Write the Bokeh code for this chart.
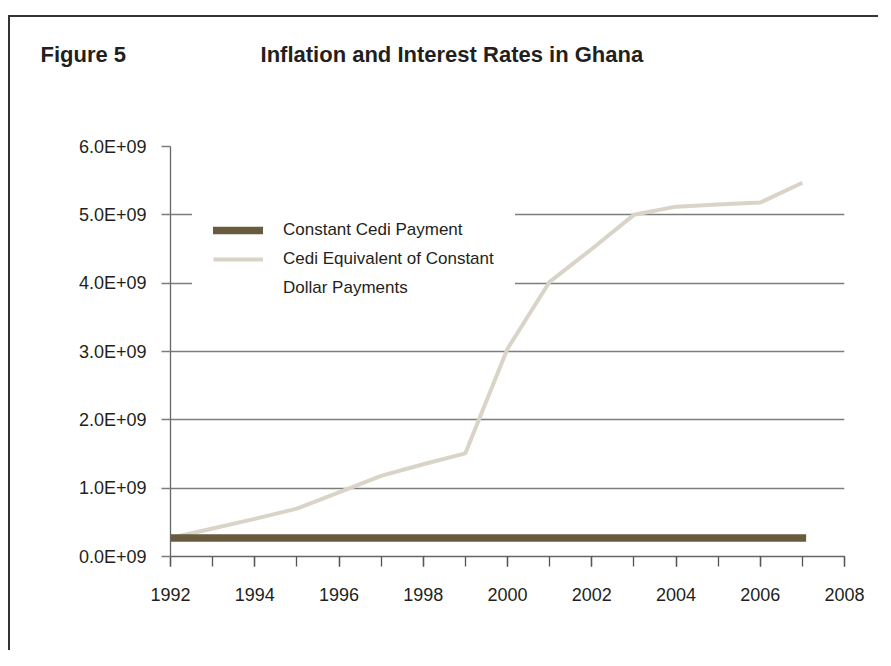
from bokeh.plotting import figure
from bokeh.models import (Legend, LegendItem, SingleIntervalTicker, FixedTicker,
                          CustomJSTickFormatter, Range1d, Title)
from bokeh.embed import file_html
from bokeh.resources import INLINE

# ---- data ----
years = [1992, 1993, 1994, 1995, 1996, 1997, 1998, 1999,
         2000, 2001, 2002, 2003, 2004, 2005, 2006, 2007]
constant_cedi = [0.27e9, 0.27e9, 0.27e9, 0.27e9, 0.27e9, 0.27e9, 0.27e9, 0.27e9,
                 0.27e9, 0.27e9, 0.27e9, 0.27e9, 0.27e9, 0.27e9, 0.27e9, 0.27e9]
cedi_equiv_dollar = [0.27e9, 0.41e9, 0.55e9, 0.70e9, 0.94e9, 1.18e9, 1.35e9, 1.51e9,
                     3.04e9, 4.02e9, 4.50e9, 5.00e9, 5.12e9, 5.15e9, 5.18e9, 5.47e9]
y_ticks = [0, 1e9, 2e9, 3e9, 4e9, 5e9, 6e9]
series_labels = ["Constant Cedi Payment", "Cedi Equivalent of Constant", "Dollar Payments"]
fig_label = "Figure 5"
title_text = "Inflation and Interest Rates in Ghana"

DARK = "#695b3d"
LIGHT = "#dad4c8"
GRID = "#7d7d7d"
TEXT = "#231f20"
FONT = "Liberation Sans"

p = figure(width=870, height=635, x_range=Range1d(1992, 2008), y_range=Range1d(0, 6e9),
           output_backend="svg", toolbar_location=None,
           min_border_left=160, min_border_right=36, min_border_top=129, min_border_bottom=96)
p.styles = {"border-top": "2px solid #333333", "border-left": "2px solid #333333",
            "margin-top": "15px", "margin-left": "8px"}
p.outline_line_color = None
p.background_fill_color = "white"

# title line: figure number and title on one line (gap kept with no-break spaces)
p.title.text = fig_label + "\u00a0" * 22 + title_text
p.title.align = "left"
p.title.offset = -130
p.title.standoff = 10
p.title.vertical_align = "bottom"
p.title.text_font = FONT
p.title.text_font_style = "bold"
p.title.text_font_size = "22px"
p.title.text_color = TEXT
# blank spacer row between the title and the plot area
p.add_layout(Title(text=" ", standoff=72, text_font_size="1px"), "above")

r_light = p.line(years, cedi_equiv_dollar, line_width=4, line_color=LIGHT)
r_dark = p.line(years, constant_cedi, line_width=7.5, line_color=DARK, line_cap="square")
r_blank = p.line(years, cedi_equiv_dollar, line_width=4, line_color=LIGHT, line_alpha=0)

# axes
p.xgrid.visible = False
p.ygrid.ticker = FixedTicker(ticks=y_ticks)
p.ygrid.grid_line_color = GRID
p.ygrid.grid_line_width = 1.3

p.yaxis.ticker = FixedTicker(ticks=y_ticks)
p.yaxis.formatter = CustomJSTickFormatter(code="return (tick/1e9).toFixed(1) + 'E+09';")
p.yaxis.minor_tick_line_color = None
p.yaxis.major_tick_out = 9
p.yaxis.major_tick_in = 0
p.yaxis.major_tick_line_color = GRID
p.yaxis.major_tick_line_width = 1.3
p.yaxis.major_label_standoff = 15

p.xaxis.ticker = SingleIntervalTicker(interval=2, num_minor_ticks=2)
p.xaxis.major_tick_out = 10
p.xaxis.major_tick_in = 0
p.xaxis.minor_tick_out = 10
p.xaxis.minor_tick_in = 0
p.xaxis.major_tick_line_color = "#555555"
p.xaxis.minor_tick_line_color = "#555555"
p.xaxis.major_tick_line_width = 1.3
p.xaxis.minor_tick_line_width = 1.3
p.xaxis.major_label_standoff = 21

for ax in (p.xaxis, p.yaxis):
    ax.axis_line_color = "#666666"
    ax.axis_line_width = 1.3
    ax.major_label_text_font = FONT
    ax.major_label_text_font_size = "18px"
    ax.major_label_text_color = TEXT

# legend
legend = Legend(items=[
    LegendItem(label=series_labels[0], renderers=[r_dark]),
    LegendItem(label=series_labels[1], renderers=[r_light]),
    LegendItem(label=series_labels[2], renderers=[r_blank]),
], location=(22, 234))
legend.background_fill_color = "white"
legend.background_fill_alpha = 1
legend.border_line_color = "white"
legend.border_line_alpha = 1
legend.padding = 20
legend.spacing = 3
legend.glyph_width = 50
legend.glyph_height = 26
legend.label_height = 26
legend.label_standoff = 20
legend.label_text_font = FONT
legend.label_text_font_size = "17px"
legend.label_text_color = TEXT
p.add_layout(legend)

open("out.html", "w").write(file_html(p, INLINE))
